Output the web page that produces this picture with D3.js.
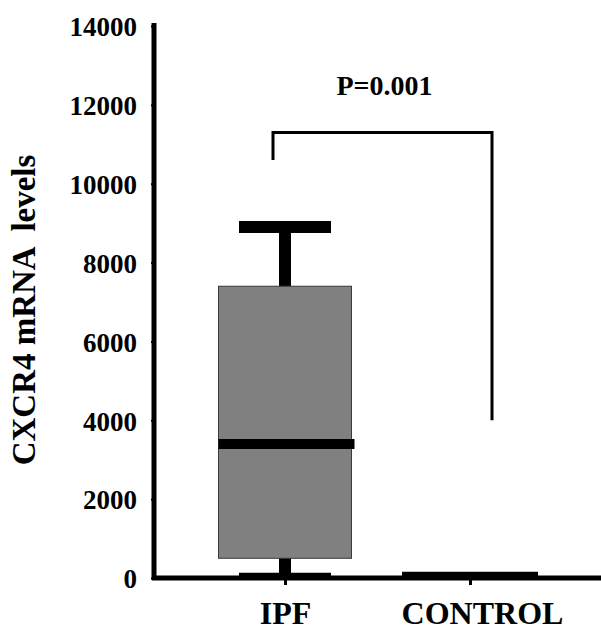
<!DOCTYPE html>
<html>
<head>
<meta charset="utf-8">
<script src="https://cdn.jsdelivr.net/npm/d3@7"></script>
<style>
  body { margin: 0; background: #fff; }
  text { font-family: "Liberation Serif", "Times New Roman", serif; font-weight: bold; fill: #000; }
</style>
</head>
<body>
<div id="chart"></div>
<script>
// categories and box statistics
const groups = ["IPF", "CONTROL"];
const whiskerLow = [60, 5];
const q1 = [500, 10];
const median = [3400, 50];
const q3 = [7400, 120];
const whiskerHigh = [8900, 130];
const yTicks = [0, 2000, 4000, 6000, 8000, 10000, 12000, 14000];
// significance bracket: left leg bottom, bar level, right leg bottom
const bracket = { pLabel: "P=0.001", leftEnd: 10600, top: 11300, rightEnd: 4000 };

const width = 601, height = 632;
const svg = d3.select("#chart").append("svg")
    .attr("width", width)
    .attr("height", height);

const y = d3.scaleLinear().domain([0, 14000]).range([578, 26]);
const x = d3.scalePoint().domain(groups).range([285, 470]);

// box widths per group
const boxW = 133;
const capW = 92;

const boxes = groups.map((g, i) => ({
    g: g, lo: whiskerLow[i], q1: q1[i], med: median[i], q3: q3[i], hi: whiskerHigh[i]
}));

// whiskers (drawn first so the box covers them)
svg.selectAll(".whisker")
    .data(boxes)
    .join("line")
    .attr("class", "whisker")
    .attr("x1", d => x(d.g)).attr("x2", d => x(d.g))
    .attr("y1", d => y(d.hi)).attr("y2", d => y(d.lo))
    .attr("stroke", "#000")
    .attr("stroke-width", 12);

// upper caps
svg.selectAll(".capHi")
    .data(boxes.filter(d => d.hi - d.q3 > 200))
    .join("line")
    .attr("class", "capHi")
    .attr("x1", d => x(d.g) - capW / 2).attr("x2", d => x(d.g) + capW / 2)
    .attr("y1", d => y(d.hi)).attr("y2", d => y(d.hi))
    .attr("stroke", "#000")
    .attr("stroke-width", 12);

// lower caps
svg.selectAll(".capLo")
    .data(boxes.filter(d => d.q1 - d.lo > 200))
    .join("line")
    .attr("class", "capLo")
    .attr("x1", d => x(d.g) - capW / 2).attr("x2", d => x(d.g) + capW / 2)
    .attr("y1", d => y(d.lo) - 1).attr("y2", d => y(d.lo) - 1)
    .attr("stroke", "#000")
    .attr("stroke-width", 4);

// boxes
svg.selectAll(".box")
    .data(boxes)
    .join("rect")
    .attr("class", "box")
    .attr("x", d => x(d.g) - boxW / 2)
    .attr("width", boxW)
    .attr("y", d => y(d.q3))
    .attr("height", d => y(d.q1) - y(d.q3))
    .attr("fill", d => d.q3 - d.q1 > 500 ? "#808080" : "#000")
    .attr("stroke", d => d.q3 - d.q1 > 500 ? "#3a3a3a" : "#000")
    .attr("stroke-width", d => d.q3 - d.q1 > 500 ? 1 : 3);

// medians
svg.selectAll(".median")
    .data(boxes.filter(d => d.q3 - d.q1 > 500))
    .join("line")
    .attr("class", "median")
    .attr("x1", d => x(d.g) - boxW / 2).attr("x2", d => x(d.g) + boxW / 2 + 3)
    .attr("y1", d => y(d.med)).attr("y2", d => y(d.med))
    .attr("stroke", "#000")
    .attr("stroke-width", 10);

// y axis
const yAxis = svg.append("g")
    .attr("transform", "translate(154,0)")
    .call(d3.axisLeft(y).tickValues(yTicks).tickFormat(d3.format("d")).tickSize(3).tickPadding(14));
yAxis.select(".domain").attr("stroke", "#000").attr("stroke-width", 5)
    .attr("d", `M0,${y(14000) - 3}V${y(0) + 2}`);
yAxis.selectAll(".tick line").attr("stroke", "#000").attr("stroke-width", 2);
yAxis.selectAll(".tick text")
    .attr("font-size", 27)
    .attr("font-family", "Liberation Serif, Times New Roman, serif")
    .attr("font-weight", "bold")
    .attr("dy", "0.36em");

// x axis
const xAxis = svg.append("g")
    .attr("transform", `translate(0,${y(0)})`)
    .call(d3.axisBottom(x).tickSize(7).tickPadding(16));
xAxis.select(".domain").attr("stroke", "#000").attr("stroke-width", 5)
    .attr("d", "M152,0H601");
xAxis.selectAll(".tick line").attr("stroke", "#000").attr("stroke-width", 3);
xAxis.selectAll(".tick text")
    .attr("font-size", 32)
    .attr("font-family", "Liberation Serif, Times New Roman, serif")
    .attr("font-weight", "bold")
    .attr("dx", d => d === "CONTROL" ? 12 : 0);

// y axis title
svg.append("text")
    .attr("transform", `translate(35,${310}) rotate(-90)`)
    .attr("text-anchor", "middle")
    .attr("font-size", 33)
    .style("white-space", "pre")
    .text("CXCR4 mRNA  levels");

// significance bracket
const bx1 = x("IPF") - 12, bx2 = x("CONTROL") + 22;
svg.append("path")
    .attr("d", `M${bx1},${y(bracket.leftEnd)}V${y(bracket.top)}H${bx2}V${y(bracket.rightEnd)}`)
    .attr("fill", "none")
    .attr("stroke", "#000")
    .attr("stroke-width", 3);
svg.append("text")
    .attr("x", (bx1 + bx2) / 2 + 2)
    .attr("y", 95)
    .attr("text-anchor", "middle")
    .attr("font-size", 28)
    .text(bracket.pLabel);
</script>
</body>
</html>
